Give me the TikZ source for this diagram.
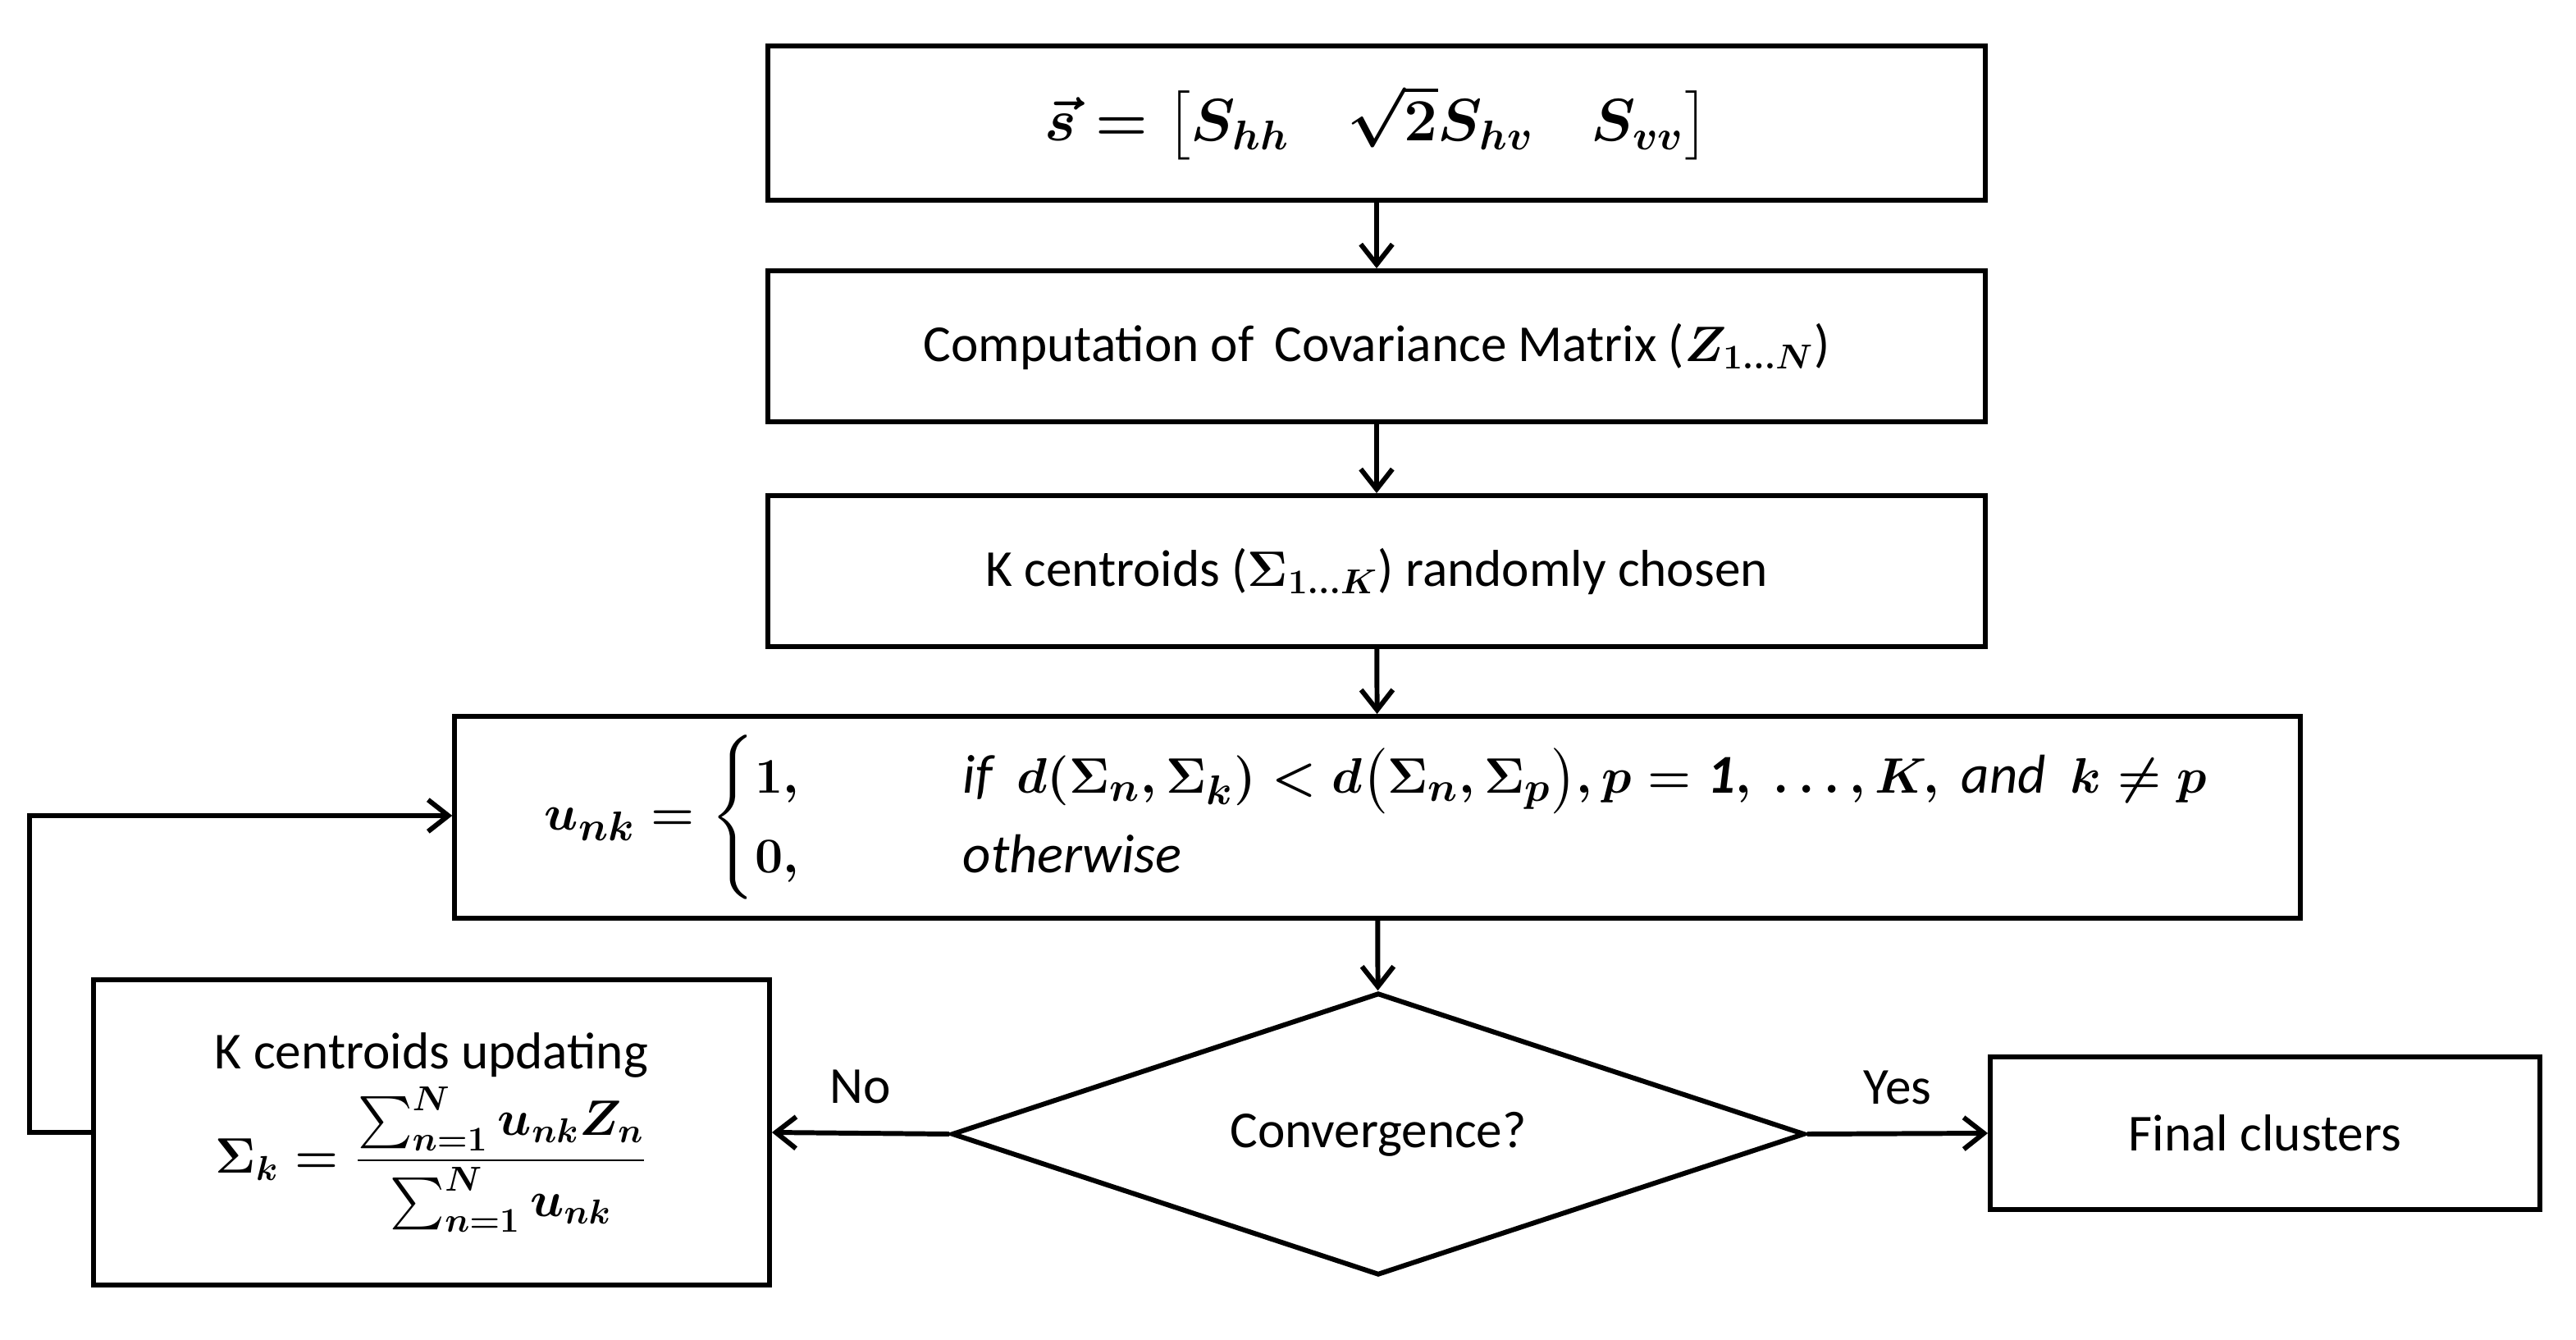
\documentclass[tikz,border=0pt]{standalone}
\usepackage{amsmath,amssymb,bm}
\usepackage{fontspec}
\setmainfont{Carlito}
\usetikzlibrary{shapes.geometric,arrows.meta}
\newsavebox{\myunkbox}
\newsavebox{\mysbox}
\newsavebox{\mysigbox}
\begin{document}
\sbox{\myunkbox}{\fontsize{19}{23}\selectfont\boldmath$u_{nk}=\begin{cases}1, & \qquad\textit{if }\ d(\Sigma_n,\Sigma_k)<d\big(\Sigma_n,\Sigma_p\big), p=\mathit{1},\ \ldots,K,\textit{ and }\ k\neq p\\ 0, & \qquad\textit{otherwise}\end{cases}$}
\sbox{\mysbox}{\fontsize{20}{24}\selectfont\boldmath$\vec{s}=\big[S_{hh}\quad \sqrt{2}S_{hv}\quad S_{vv}\big]$}
\sbox{\mysigbox}{\fontsize{18}{22}\selectfont\boldmath$\displaystyle\Sigma_k=\frac{\sum_{n=1}^{N}u_{nk}Z_n}{\sum_{n=1}^{N}u_{nk}}$}
\begin{tikzpicture}[x=0.02cm,y=-0.02cm,
  box/.style={draw,line width=1.7pt,rectangle,inner sep=0pt,font=\fontsize{18}{22}\selectfont},
  arr/.style={line width=1.7pt,-{Straight Barb[length=7pt,width=11pt,line width=1.7pt]}}]
\useasboundingbox (0,0) rectangle (1570,816.5);
\node[box,minimum width=14.84cm,minimum height=1.88cm] (b1) at (839,75) {\usebox{\mysbox}};
\node[box,minimum width=14.84cm,minimum height=1.84cm] (b2) at (839,211)
  {Computation of\, Covariance Matrix ($\bm{Z_{1\ldots N}}$)};
\node[box,minimum width=14.84cm,minimum height=1.84cm] (b3) at (839,348)
  {K centroids ($\bm{\Sigma_{1\ldots K}}$) randomly chosen};
\node[box,minimum width=22.5cm,minimum height=2.46cm] (b4) at (839.5,498)
  {\usebox{\myunkbox}\hspace{30pt}};
\node[draw,line width=1.7pt,diamond,aspect=3.02,minimum width=10.4cm,minimum height=3.44cm,inner sep=0pt,font=\fontsize{18}{22}\selectfont] (d) at (840,691) {Convergence?};
\node[box,minimum width=8.24cm,minimum height=3.72cm,align=center] (bl) at (263,690)
  {K centroids updating\\[2pt]\usebox{\mysigbox}};
\node[box,minimum width=6.7cm,minimum height=1.86cm] (bf) at (1380.5,690.5) {Final clusters};
\draw[arr] (b1) -- (b2);
\draw[arr] (b2) -- (b3);
\draw[arr] (b3) -- (b4);
\draw[arr] (b4) -- (d);
\draw[arr] (d.west) -- (bl.east) node[midway,above=6pt,font=\fontsize{18}{22}\selectfont] {No};
\draw[arr] (d.east) -- (bf.west) node[midway,above=6pt,font=\fontsize{18}{22}\selectfont] {Yes};
\coordinate (c1) at (18,690);
\coordinate (c2) at (18,497);
\draw[arr] (bl.west) -- (c1) -- (c2) -- (b4.west|-c2);
\end{tikzpicture}
\end{document}
